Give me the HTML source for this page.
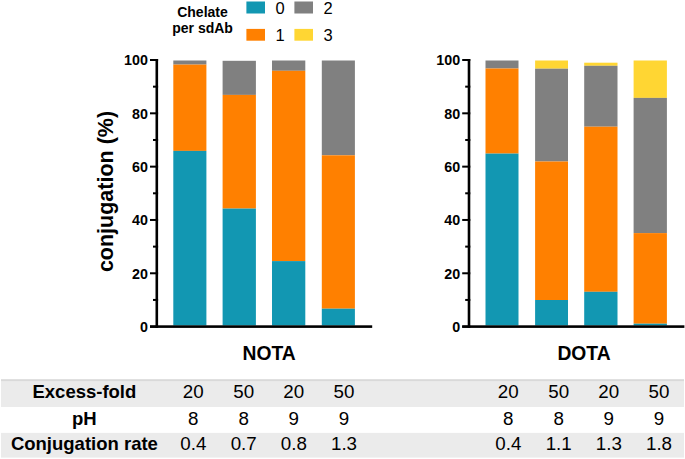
<!DOCTYPE html>
<html><head><meta charset="utf-8"><style>
html,body{margin:0;padding:0;background:#fff;width:685px;height:459px;overflow:hidden}
svg{display:block}
text{font-family:"Liberation Sans", sans-serif;fill:#000}
</style></head><body>
<svg width="685" height="459" viewBox="0 0 685 459">
<rect x="1.00" y="379.30" width="683.00" height="27.70" fill="#EBEBEB"/>
<rect x="1.00" y="379.30" width="683.00" height="1.80" fill="#D9D9D9"/>
<rect x="1.00" y="432.90" width="683.00" height="24.70" fill="#EBEBEB"/>
<rect x="173.30" y="60.50" width="33.10" height="4.10" fill="#808080"/>
<rect x="173.30" y="64.60" width="33.10" height="86.30" fill="#FF8000"/>
<rect x="173.30" y="150.90" width="33.10" height="174.60" fill="#1297B2"/>
<rect x="222.60" y="60.80" width="33.30" height="34.10" fill="#808080"/>
<rect x="222.60" y="94.90" width="33.30" height="113.70" fill="#FF8000"/>
<rect x="222.60" y="208.60" width="33.30" height="116.90" fill="#1297B2"/>
<rect x="272.00" y="60.50" width="33.30" height="10.30" fill="#808080"/>
<rect x="272.00" y="70.80" width="33.30" height="190.30" fill="#FF8000"/>
<rect x="272.00" y="261.10" width="33.30" height="64.40" fill="#1297B2"/>
<rect x="321.80" y="60.50" width="33.10" height="94.80" fill="#808080"/>
<rect x="321.80" y="155.30" width="33.10" height="153.40" fill="#FF8000"/>
<rect x="321.80" y="308.70" width="33.10" height="16.80" fill="#1297B2"/>
<rect x="155.50" y="59.00" width="2.60" height="268.90" fill="#000"/>
<rect x="150.00" y="325.60" width="8.10" height="2.00" fill="#000"/>
<text x="147.90" y="331.90" font-size="14.3" font-weight="bold" text-anchor="end">0</text>
<rect x="153.00" y="298.94" width="5.10" height="2.00" fill="#000"/>
<rect x="150.00" y="272.28" width="8.10" height="2.00" fill="#000"/>
<text x="147.90" y="278.58" font-size="14.3" font-weight="bold" text-anchor="end">20</text>
<rect x="153.00" y="245.62" width="5.10" height="2.00" fill="#000"/>
<rect x="150.00" y="218.96" width="8.10" height="2.00" fill="#000"/>
<text x="147.90" y="225.26" font-size="14.3" font-weight="bold" text-anchor="end">40</text>
<rect x="153.00" y="192.30" width="5.10" height="2.00" fill="#000"/>
<rect x="150.00" y="165.64" width="8.10" height="2.00" fill="#000"/>
<text x="147.90" y="171.94" font-size="14.3" font-weight="bold" text-anchor="end">60</text>
<rect x="153.00" y="138.98" width="5.10" height="2.00" fill="#000"/>
<rect x="150.00" y="112.32" width="8.10" height="2.00" fill="#000"/>
<text x="147.90" y="118.62" font-size="14.3" font-weight="bold" text-anchor="end">80</text>
<rect x="153.00" y="85.66" width="5.10" height="2.00" fill="#000"/>
<rect x="150.00" y="59.00" width="8.10" height="2.00" fill="#000"/>
<text x="147.90" y="65.30" font-size="14.3" font-weight="bold" text-anchor="end">100</text>
<rect x="150.00" y="325.30" width="222.20" height="2.60" fill="#000"/>
<text x="269.10" y="359.50" font-size="19.3" font-weight="bold" text-anchor="middle">NOTA</text>
<rect x="485.50" y="60.50" width="33.00" height="8.00" fill="#808080"/>
<rect x="485.50" y="68.50" width="33.00" height="85.10" fill="#FF8000"/>
<rect x="485.50" y="153.60" width="33.00" height="171.90" fill="#1297B2"/>
<rect x="535.10" y="60.50" width="32.90" height="8.20" fill="#FFD633"/>
<rect x="535.10" y="68.70" width="32.90" height="92.80" fill="#808080"/>
<rect x="535.10" y="161.50" width="32.90" height="138.50" fill="#FF8000"/>
<rect x="535.10" y="300.00" width="32.90" height="25.50" fill="#1297B2"/>
<rect x="584.20" y="62.70" width="33.30" height="3.10" fill="#FFD633"/>
<rect x="584.20" y="65.80" width="33.30" height="60.90" fill="#808080"/>
<rect x="584.20" y="126.70" width="33.30" height="165.10" fill="#FF8000"/>
<rect x="584.20" y="291.80" width="33.30" height="33.70" fill="#1297B2"/>
<rect x="633.60" y="60.50" width="33.30" height="37.40" fill="#FFD633"/>
<rect x="633.60" y="97.90" width="33.30" height="135.20" fill="#808080"/>
<rect x="633.60" y="233.10" width="33.30" height="90.60" fill="#FF8000"/>
<rect x="633.60" y="323.70" width="33.30" height="1.80" fill="#1297B2"/>
<rect x="467.70" y="59.00" width="2.60" height="268.90" fill="#000"/>
<rect x="462.20" y="325.60" width="8.10" height="2.00" fill="#000"/>
<text x="460.10" y="331.90" font-size="14.3" font-weight="bold" text-anchor="end">0</text>
<rect x="465.20" y="298.94" width="5.10" height="2.00" fill="#000"/>
<rect x="462.20" y="272.28" width="8.10" height="2.00" fill="#000"/>
<text x="460.10" y="278.58" font-size="14.3" font-weight="bold" text-anchor="end">20</text>
<rect x="465.20" y="245.62" width="5.10" height="2.00" fill="#000"/>
<rect x="462.20" y="218.96" width="8.10" height="2.00" fill="#000"/>
<text x="460.10" y="225.26" font-size="14.3" font-weight="bold" text-anchor="end">40</text>
<rect x="465.20" y="192.30" width="5.10" height="2.00" fill="#000"/>
<rect x="462.20" y="165.64" width="8.10" height="2.00" fill="#000"/>
<text x="460.10" y="171.94" font-size="14.3" font-weight="bold" text-anchor="end">60</text>
<rect x="465.20" y="138.98" width="5.10" height="2.00" fill="#000"/>
<rect x="462.20" y="112.32" width="8.10" height="2.00" fill="#000"/>
<text x="460.10" y="118.62" font-size="14.3" font-weight="bold" text-anchor="end">80</text>
<rect x="465.20" y="85.66" width="5.10" height="2.00" fill="#000"/>
<rect x="462.20" y="59.00" width="8.10" height="2.00" fill="#000"/>
<text x="460.10" y="65.30" font-size="14.3" font-weight="bold" text-anchor="end">100</text>
<rect x="462.20" y="325.30" width="222.20" height="2.60" fill="#000"/>
<text x="584.00" y="359.50" font-size="19.3" font-weight="bold" text-anchor="middle">DOTA</text>
<text x="0" y="0" font-size="21.5" font-weight="bold" text-anchor="middle" transform="translate(112.8,191.5) rotate(-90)">conjugation (%)</text>
<text x="202.50" y="16.80" font-size="14" font-weight="bold" text-anchor="middle">Chelate</text>
<text x="202.60" y="32.60" font-size="14" font-weight="bold" text-anchor="middle">per sdAb</text>
<rect x="246.40" y="1.50" width="18.60" height="12.00" fill="#1297B2"/>
<rect x="294.40" y="1.50" width="18.60" height="12.00" fill="#808080"/>
<rect x="246.40" y="28.90" width="18.60" height="11.80" fill="#FF8000"/>
<rect x="294.40" y="28.90" width="18.60" height="11.80" fill="#FFD633"/>
<text x="275.50" y="13.50" font-size="16.5" font-weight="normal" text-anchor="start">0</text>
<text x="275.50" y="41.00" font-size="16.5" font-weight="normal" text-anchor="start">1</text>
<text x="323.50" y="13.50" font-size="16.5" font-weight="normal" text-anchor="start">2</text>
<text x="323.50" y="41.00" font-size="16.5" font-weight="normal" text-anchor="start">3</text>
<text x="84.40" y="398.00" font-size="18.5" font-weight="bold" text-anchor="middle">Excess-fold</text>
<text x="84.40" y="424.50" font-size="18.5" font-weight="bold" text-anchor="middle">pH</text>
<text x="84.40" y="450.30" font-size="18.5" font-weight="bold" text-anchor="middle">Conjugation rate</text>
<text x="193.30" y="398.00" font-size="18.75" font-weight="normal" text-anchor="middle">20</text>
<text x="508.30" y="398.00" font-size="18.75" font-weight="normal" text-anchor="middle">20</text>
<text x="243.70" y="398.00" font-size="18.75" font-weight="normal" text-anchor="middle">50</text>
<text x="558.70" y="398.00" font-size="18.75" font-weight="normal" text-anchor="middle">50</text>
<text x="293.80" y="398.00" font-size="18.75" font-weight="normal" text-anchor="middle">20</text>
<text x="608.80" y="398.00" font-size="18.75" font-weight="normal" text-anchor="middle">20</text>
<text x="344.00" y="398.00" font-size="18.75" font-weight="normal" text-anchor="middle">50</text>
<text x="659.00" y="398.00" font-size="18.75" font-weight="normal" text-anchor="middle">50</text>
<text x="193.30" y="424.50" font-size="18.75" font-weight="normal" text-anchor="middle">8</text>
<text x="508.30" y="424.50" font-size="18.75" font-weight="normal" text-anchor="middle">8</text>
<text x="243.70" y="424.50" font-size="18.75" font-weight="normal" text-anchor="middle">8</text>
<text x="558.70" y="424.50" font-size="18.75" font-weight="normal" text-anchor="middle">8</text>
<text x="293.80" y="424.50" font-size="18.75" font-weight="normal" text-anchor="middle">9</text>
<text x="608.80" y="424.50" font-size="18.75" font-weight="normal" text-anchor="middle">9</text>
<text x="344.00" y="424.50" font-size="18.75" font-weight="normal" text-anchor="middle">9</text>
<text x="659.00" y="424.50" font-size="18.75" font-weight="normal" text-anchor="middle">9</text>
<text x="193.30" y="450.30" font-size="18.75" font-weight="normal" text-anchor="middle">0.4</text>
<text x="508.30" y="450.30" font-size="18.75" font-weight="normal" text-anchor="middle">0.4</text>
<text x="243.70" y="450.30" font-size="18.75" font-weight="normal" text-anchor="middle">0.7</text>
<text x="558.70" y="450.30" font-size="18.75" font-weight="normal" text-anchor="middle">1.1</text>
<text x="293.80" y="450.30" font-size="18.75" font-weight="normal" text-anchor="middle">0.8</text>
<text x="608.80" y="450.30" font-size="18.75" font-weight="normal" text-anchor="middle">1.3</text>
<text x="344.00" y="450.30" font-size="18.75" font-weight="normal" text-anchor="middle">1.3</text>
<text x="659.00" y="450.30" font-size="18.75" font-weight="normal" text-anchor="middle">1.8</text>
</svg>
</body></html>
